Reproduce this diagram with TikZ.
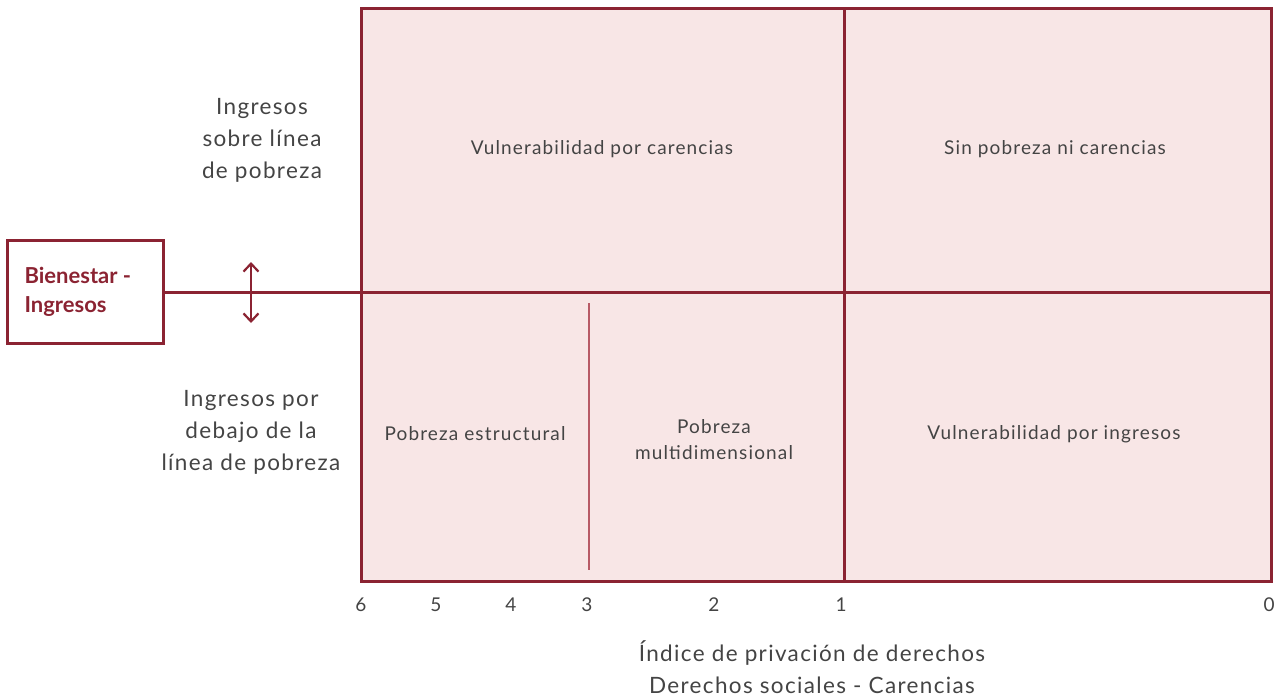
\documentclass[tikz,border=0pt]{standalone}
\usepackage{fontspec}
\setmainfont{Lato}
\newfontfamily\spaced{Lato}[LetterSpace=6]
\usetikzlibrary{arrows.meta}
\definecolor{dred}{HTML}{8B2332}
\definecolor{lred}{HTML}{B85A66}
\definecolor{pfill}{HTML}{F8E6E6}
\definecolor{tgray}{HTML}{444444}
\tikzset{
  frame/.style={draw=dred,line width=3pt},
  qlabel/.style={text=tgray,font=\spaced\fontsize{19}{26}\selectfont,align=center},
  slabel/.style={text=tgray,font=\spaced\fontsize{22.5}{32}\selectfont,align=center},
  axnum/.style={text=tgray,font=\fontsize{19}{22}\selectfont},
}
\begin{document}
\begin{tikzpicture}[x=1pt,y=-1pt]
\useasboundingbox (0,0) rectangle (1282,697);
% grid
\fill[pfill] (361,8) rectangle (1271,581);
\coordinate (tl) at (361,8);
\coordinate (br) at (1271,581);
\coordinate (ml) at (361,292);
\coordinate (mr) at (1271,292);
\coordinate (mt) at (844,8);
\coordinate (mb) at (844,581);
\coordinate (it) at (589,303);
\coordinate (ib) at (589,570);
\draw[lred,line width=1.6pt] (it) -- (ib);
\draw[frame] (ml) -- (mr);
\draw[frame] (mt) -- (mb);
\draw[frame] (tl) rectangle (br);
% box
\node[draw=dred,line width=3pt,minimum width=156pt,minimum height=103pt,inner sep=0pt] (box) at (85,292) {};
\node[anchor=west,text=dred,font=\bfseries\fontsize{22}{29}\selectfont,align=left] (boxt) at (21,292) {Bienestar -\\Ingresos};
\draw[frame] (box.east) -- (ml);
\coordinate (at) at (251,262);
\coordinate (ab) at (251,323);
\draw[dred,line width=2.2pt,{Straight Barb[length=8pt,width=15pt]}-{Straight Barb[length=8pt,width=15pt]}] (at) -- (ab);
% side labels
\node[slabel] (above) at (262,140) {Ingresos\\sobre línea\\de pobreza};
\node[slabel] (below) at (251,432) {Ingresos por\\debajo de la\\línea de pobreza};
% quadrant labels
\node[qlabel] (q1) at (602,149) {Vulnerabilidad por carencias};
\node[qlabel] (q2) at (1055,149) {Sin pobreza ni carencias};
\node[qlabel] (q3) at (475,434) {Pobreza estructural};
\node[qlabel] (q4) at (714,440) {Pobreza\\multidimensional};
\node[qlabel] (q5) at (1054,434) {Vulnerabilidad por ingresos};
% axis numbers
\node[axnum] (n6) at (361,605) {6};
\node[axnum] (n5) at (436,605) {5};
\node[axnum] (n4) at (511,605) {4};
\node[axnum] (n3) at (587,605) {3};
\node[axnum] (n2) at (714,605) {2};
\node[axnum] (n1) at (841,605) {1};
\node[axnum] (n0) at (1269,605) {0};
\node[slabel] (axt) at (812,667) {Índice de privación de derechos\\Derechos sociales - Carencias};
\end{tikzpicture}
\end{document}
